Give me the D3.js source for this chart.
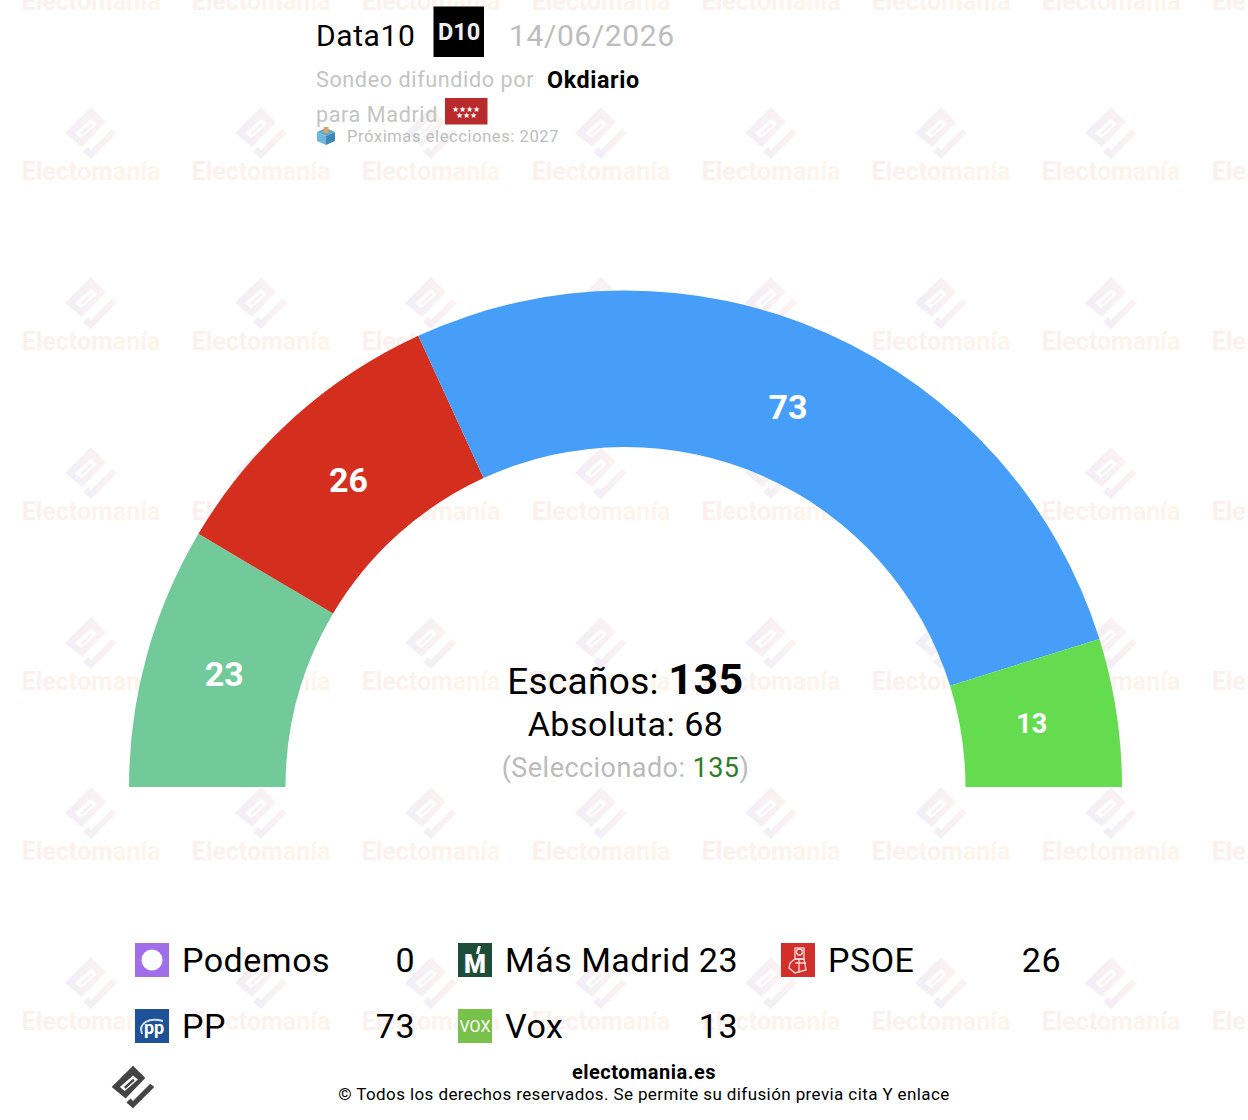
<!DOCTYPE html>
<html>
<head>
<meta charset="utf-8">
<script src="https://cdn.jsdelivr.net/npm/d3@7"></script>
<style>
  html, body { margin: 0; padding: 0; background: #fff; }
  svg { display: block; }
  text { font-family: Roboto, sans-serif; }
</style>
</head>
<body>
<script>
const parties = ['Podemos', 'Más Madrid', 'PSOE', 'PP', 'Vox'];
const seats = [0, 23, 26, 73, 13];
const arcColors = ['#a06ee8', '#72c99a', '#d42f1e', '#469ef8', '#65dc4f'];
const iconColors = ['#a06ee8', '#1d4d38', '#d32f2a', '#1f5199', '#78c14b'];
const totalSeats = 135, majority = 68, selected = 135;

const width = 1248, height = 1120;
const cx = 625.5, cy = 787, outerR = 496.5, innerR = 340, labelR = 414;

const svg = d3.select('body').append('svg').attr('width', width).attr('height', height);
const defs = svg.append('defs');

function gradient(id, from, to) {
    let g = defs.append('linearGradient').attr('id', id);
    g.append('stop').attr('offset', '0%').attr('stop-color', from);
    g.append('stop').attr('offset', '100%').attr('stop-color', to);
}
gradient('wmLogo', '#f2eef8', '#fcf3f0');
gradient('wmText', '#fbf0ee', '#fdf5ec');
defs.append('clipPath').attr('id', 'wmClip').append('rect').attr('width', 1245).attr('height', height);

const line = d3.line();
const logoBody = [[0, -26], [15, -11], [-9, 14], [-26, 0]];
const logoHole = [[-16, 0], [0, -14], [6, -9], [-10, 5]];
const logoHoleBar = [[-11, 0], [0, -10], [2, -8], [-9, 2]];
const logoFoot = [[21, -4], [26, 0], [0, 26], [-8, 19], [-3, 14], [0, 17]];

function drawLogo(g, fill) {
    g.append('path').attr('fill-rule', 'evenodd').attr('fill', fill)
        .attr('d', line(logoBody) + 'Z' + line(logoHole) + 'Z' + line(logoHoleBar) + 'Z');
    g.append('path').attr('fill', fill).attr('d', line(logoFoot) + 'Z');
}

// watermark tiles
const tileX = d3.range(91, 1300, 170), tileY = d3.range(2, 1100, 170);
const tiles = svg.append('g').attr('clip-path', 'url(#wmClip)');
tileY.forEach(y => tileX.forEach(x => {
    let t = tiles.append('g').attr('transform', `translate(${x},${y})`);
    if (y > 100) drawLogo(t.append('g').attr('transform', 'translate(0,-39)'), 'url(#wmLogo)');
    t.append('text').attr('y', 8).attr('text-anchor', 'middle')
        .attr('font-size', 25).attr('font-weight', 700).attr('fill', 'url(#wmText)').text('Electomanía');
}));

// hemicycle
const pie = d3.pie().sort(null).startAngle(-Math.PI / 2).endAngle(Math.PI / 2);
const arc = d3.arc().innerRadius(innerR).outerRadius(outerR);
const labelArc = d3.arc().innerRadius(labelR).outerRadius(labelR);
const slices = pie(seats);
// small nudges of the labels off the arc centre line
const labelDx = [0, -2, 0, -6, -3], labelDy = [0, -3.5, 0, -2, -1.5];
const chart = svg.append('g').attr('transform', `translate(${cx},${cy})`);
chart.selectAll('path').data(slices).enter().append('path')
    .attr('d', arc)
    .attr('fill', (d, i) => arcColors[i]);
chart.selectAll('text').data(slices).enter().filter(d => d.value > 0).append('text')
    .attr('x', d => labelArc.centroid(d)[0] + labelDx[d.index])
    .attr('y', d => labelArc.centroid(d)[1] + labelDy[d.index])
    .attr('dy', '0.36em')
    .attr('text-anchor', 'middle')
    .attr('font-weight', 700)
    .attr('font-size', d => d.value < 20 ? 27 : 34)
    .attr('fill', '#fff')
    .text(d => d.value);

// centre text
let t1 = svg.append('text').attr('x', 625.5).attr('y', 694).attr('text-anchor', 'middle').attr('fill', '#000');
t1.append('tspan').attr('font-size', 37).attr('letter-spacing', 0.3).text('Escaños: ');
t1.append('tspan').attr('font-size', 43).attr('font-weight', 700).attr('letter-spacing', 0.5).text(totalSeats);
svg.append('text').attr('x', 625.5).attr('y', 736).attr('text-anchor', 'middle')
    .attr('font-size', 34).attr('letter-spacing', 0.5).text('Absoluta: ' + majority);
let t3 = svg.append('text').attr('x', 625.5).attr('y', 777).attr('text-anchor', 'middle')
    .attr('font-size', 27).attr('letter-spacing', 0.45).attr('fill', '#bbb');
t3.append('tspan').text('(Seleccionado: ');
t3.append('tspan').attr('fill', '#2e7d22').text(selected);
t3.append('tspan').text(')');

// header
function label(x, y, size, txt, fill, weight) {
    return svg.append('text').attr('x', x).attr('y', y).attr('font-size', size)
        .attr('letter-spacing', 0.6).attr('fill', fill).attr('font-weight', weight || 400).text(txt);
}
label(316, 46, 30, 'Data10', '#000');
svg.append('rect').attr('x', 433.5).attr('y', 6.5).attr('width', 50.5).attr('height', 50.5).attr('fill', '#000');
svg.append('text').attr('x', 459).attr('y', 40).attr('text-anchor', 'middle').attr('font-size', 23.5)
    .attr('font-weight', 700).attr('fill', '#eee').text('D10');
label(509, 46, 30, '14/06/2026', '#bdbdbd');
label(316, 87, 21.6, 'Sondeo difundido por', '#c4c4c4');
label(547, 88, 23.3, 'Okdiario', '#000', 700);
label(316, 122, 21.6, 'para Madrid', '#c4c4c4');
svg.append('rect').attr('x', 445).attr('y', 98).attr('width', 42.5).attr('height', 26.5).attr('fill', '#b82a2c');
svg.append('text').attr('x', 466).attr('y', 112).attr('text-anchor', 'middle').attr('font-size', 8).attr('fill', '#fff').text('★★★★');
svg.append('text').attr('x', 466).attr('y', 118).attr('text-anchor', 'middle').attr('font-size', 8).attr('fill', '#fff').text('★★★');
label(347, 142, 16.5, 'Próximas elecciones: 2027', '#bdbdbd');
// ballot box
let box = svg.append('g').attr('transform', 'translate(326,136)');
box.append('path').attr('fill', '#5fa8cf').attr('d', line([[-9, -4], [0, -8], [9, -4], [0, 0]]) + 'Z');
box.append('path').attr('fill', '#6fb7da').attr('d', line([[-9, -4], [0, 0], [0, 9], [-9, 5]]) + 'Z');
box.append('path').attr('fill', '#3f88b5').attr('d', line([[9, -4], [0, 0], [0, 9], [9, 5]]) + 'Z');
box.append('rect').attr('x', -2.5).attr('y', -9).attr('width', 5).attr('height', 6).attr('fill', '#e5a25a');

// legend
const legendCols = [135, 458, 781], legendRows = [943, 1009];
const valueRight = [415, 738, 1061];
const iconSize = 34;
const legend = svg.selectAll('g.legend').data(parties).enter().append('g')
    .attr('class', 'legend')
    .attr('transform', (d, i) => `translate(${legendCols[i % 3]},${legendRows[Math.floor(i / 3)]})`);
legend.append('rect').attr('width', iconSize).attr('height', iconSize).attr('fill', (d, i) => iconColors[i]);
legend.append('text').attr('x', 47).attr('y', 29).attr('font-size', 34).attr('letter-spacing', 0.5).attr('fill', '#000').text(d => d);
legend.append('text').attr('x', (d, i) => valueRight[i % 3] - legendCols[i % 3]).attr('y', 29)
    .attr('text-anchor', 'end').attr('font-size', 34).attr('letter-spacing', 0.5).attr('fill', '#000').text((d, i) => seats[i]);

// party icons
function iconText(i, txt, x, y, size, weight) {
    legend.filter((d, j) => j === i).append('text').attr('x', x).attr('y', y).attr('text-anchor', 'middle')
        .attr('font-size', size).attr('font-weight', weight).attr('fill', '#fff').text(txt);
}
legend.filter((d, i) => i === 0).append('circle').attr('cx', 17).attr('cy', 17).attr('r', 10.5).attr('fill', '#fff');
iconText(1, 'M', 17, 30, 25, 900);
legend.filter((d, i) => i === 1).append('path').attr('fill', '#fff').attr('d', line([[18, 11], [20, 3], [23, 3], [21, 11]]) + 'Z');
iconText(3, 'pp', 19, 25, 18, 700);
legend.filter((d, i) => i === 3).append('path').attr('fill', 'none').attr('stroke', '#cfe0f2').attr('stroke-width', 2)
    .attr('d', 'M7 25 C3 14 14 8 28 12');
iconText(4, 'VOX', 17, 22.5, 16, 400);
let rose = legend.filter((d, i) => i === 2).append('g').attr('fill', 'none').attr('stroke', '#f8dcdc').attr('stroke-width', 1.3);
rose.append('rect').attr('x', 14).attr('y', 5).attr('width', 9).attr('height', 11);
rose.append('circle').attr('cx', 18.5).attr('cy', 9).attr('r', 3);
rose.append('path').attr('d', line([[9, 20], [14, 16], [23, 16], [25, 27], [14, 30], [8, 25]]) + 'Z');
rose.append('path').attr('d', 'M14 20 H25 M18 16 V30');

// footer
drawLogo(svg.append('g').attr('transform', 'translate(133,1087) scale(0.82)'), '#444');
svg.append('text').attr('x', 644).attr('y', 1079).attr('text-anchor', 'middle').attr('font-size', 20)
    .attr('font-weight', 700).attr('letter-spacing', 0.5).text('electomania.es');
svg.append('text').attr('x', 644).attr('y', 1100).attr('text-anchor', 'middle').attr('font-size', 17)
    .attr('letter-spacing', 0.4).text('© Todos los derechos reservados. Se permite su difusión previa cita Y enlace');
</script>
</body>
</html>
